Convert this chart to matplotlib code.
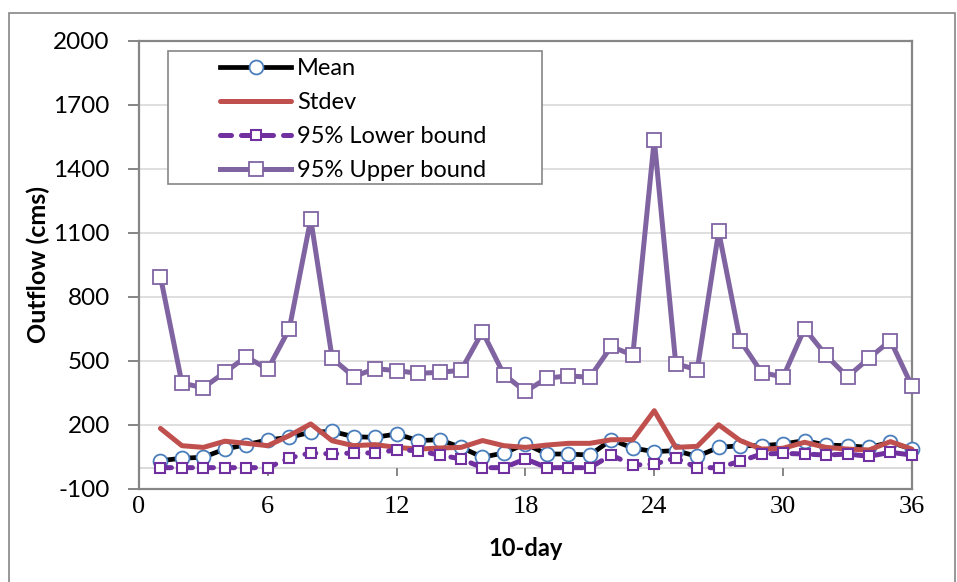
import matplotlib
matplotlib.use("Agg")
import matplotlib.pyplot as plt
from matplotlib.patches import Rectangle

# ---------------------------------------------------------------
# Data: 10-day outflow statistics (cms)
# ---------------------------------------------------------------
days = list(range(1, 37))

mean_flow = [33, 44, 49, 87, 108, 130, 142, 166, 170, 145, 142, 158,
             127, 131, 95, 49, 69, 111, 64, 64, 59, 131, 92, 75,
             80, 53, 95, 103, 103, 111, 127, 106, 103, 95, 119, 87]

stdev_flow = [184, 103, 95, 124, 114, 103, 150, 205, 126, 103, 108, 95,
              87, 92, 95, 127, 103, 95, 106, 114, 114, 131, 131, 267,
              95, 100, 201, 127, 87, 91, 119, 95, 87, 83, 122, 87]

lower_95 = [0, 0, 0, 0, 0, 0, 45, 69, 64, 69, 69, 83,
            80, 59, 41, 0, 0, 41, 0, 0, 0, 59, 12, 17,
            45, 0, 0, 30, 64, 67, 64, 59, 64, 53, 72, 59]

upper_95 = [896, 396, 375, 447, 520, 461, 650, 1165, 512, 427, 464, 455,
            442, 447, 456, 637, 436, 357, 420, 430, 424, 568, 527, 1538,
            488, 458, 1107, 596, 446, 425, 652, 527, 426, 513, 596, 382]

x_ticks = [0, 6, 12, 18, 24, 30, 36]
y_ticks = [-100, 200, 500, 800, 1100, 1400, 1700, 2000]

# ---------------------------------------------------------------
# Style
# ---------------------------------------------------------------
SANS = "Lato"
SERIF = "Liberation Serif"
BORDER = "#868686"
GRID = "#d9d9d9"
C_MEAN_EDGE = "#4a7ebb"
C_STDEV = "#c0504d"
C_LOWER = "#7030a0"
C_UPPER = "#8064a2"

plt.rcParams["font.family"] = SANS
plt.rcParams["axes.unicode_minus"] = False

fig = plt.figure(figsize=(9.57, 5.82), dpi=100)
ax = fig.add_axes([0.1452, 0.1598, 0.8077, 0.7698])

# outer chart border
fig.patches.append(Rectangle((9 / 957, -0.02), 946 / 957, 1 - 13 / 582 + 0.02,
                             transform=fig.transFigure, fill=False,
                             edgecolor=BORDER, linewidth=1.2, zorder=0))

# gridlines and zero line
for yv in y_ticks[1:-1]:
    ax.axhline(yv, color=GRID, linewidth=1.2, zorder=0)
ax.axhline(0, color=GRID, linewidth=1.4, zorder=0)

# series
ax.plot(days, mean_flow, color="black", linewidth=3.4, marker="o",
        markersize=10, markerfacecolor="white", markeredgecolor=C_MEAN_EDGE,
        markeredgewidth=1.3, zorder=3, clip_on=False, label="Mean")
ax.plot(days, stdev_flow, color=C_STDEV, linewidth=3.6,
        solid_capstyle="round", zorder=4, clip_on=False, label="Stdev")
ax.plot(days, lower_95, color=C_LOWER, linewidth=3.6, linestyle=(0, (2.2, 2.0)),
        dash_capstyle="round", marker="s", markersize=7,
        markerfacecolor="white", markeredgecolor=C_LOWER,
        markeredgewidth=1.5, zorder=5, clip_on=False, label="95% Lower bound")
ax.plot(days, upper_95, color=C_UPPER, linewidth=3.6, marker="s",
        markersize=10.5, markerfacecolor="white", markeredgecolor=C_UPPER,
        markeredgewidth=1.3, zorder=6, clip_on=False, label="95% Upper bound")

ax.set_xlim(0, 36)
ax.set_ylim(-100, 2000)
ax.set_yticks(y_ticks)
ax.set_xticks(x_ticks)

for sp in ax.spines.values():
    sp.set_color(BORDER)
    sp.set_linewidth(1.6)

ax.tick_params(axis="y", direction="out", length=8, width=1.4, color=BORDER,
               pad=13, labelsize=17.5)
ax.tick_params(axis="x", length=0, pad=5, labelsize=19)
for lbl in ax.get_xticklabels():
    lbl.set_family(SERIF)

# category axis crosses at zero: tick marks hang below the zero line
sec = ax.secondary_xaxis(100 / 2100)
sec.set_xticks(x_ticks[1:-1])
sec.tick_params(axis="x", direction="out", length=6, width=1.4,
                color=BORDER, labelbottom=False)
sec.spines["bottom"].set_visible(False)

ax.set_ylabel("Outflow (cms)", fontsize=18, fontweight="bold", labelpad=2)
ax.set_xlabel("10-day", fontsize=17, fontweight="bold", labelpad=14)

# legend box
ax.add_patch(Rectangle((0.0375, 0.681), 0.4835, 0.297, transform=ax.transAxes,
                       facecolor="white", edgecolor=BORDER, linewidth=1.2,
                       zorder=8))
handles, labels = ax.get_legend_handles_labels()
leg = ax.legend(handles, labels, loc="upper left",
                bbox_to_anchor=(0.099, 0.973), frameon=False, fontsize=17,
                handlelength=3.0, handletextpad=0.25, labelspacing=0.56,
                borderpad=0.2, borderaxespad=0, numpoints=1)
leg.set_zorder(9)

fig.savefig("out.png", dpi=100)
